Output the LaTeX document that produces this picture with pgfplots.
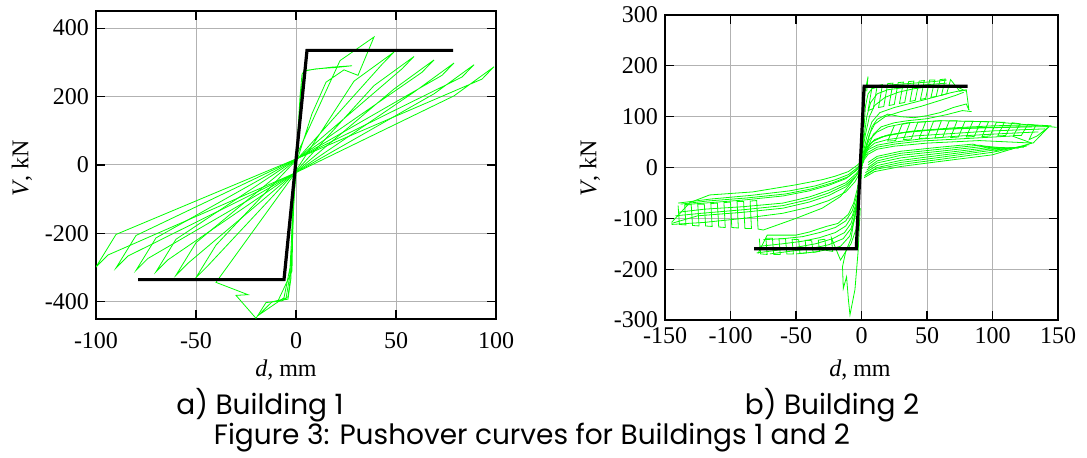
\documentclass[border=0pt]{standalone}
\usepackage{fontspec}
\setmainfont{Liberation Serif}
\newfontfamily\capfont{Poppins}
\usepackage{pgfplots}
\pgfplotsset{compat=1.18}

\definecolor{curve}{RGB}{0,255,0}

\pgfplotsset{
  pushover/.style={
    scale only axis, axis line style={line width=0.6pt},
    grid=major, grid style={gray!60, line width=0.5pt},
    tick style={black, line width=0.6pt},
    tick label style={font=\fontsize{12}{14}\selectfont},
    clip=true,
  },
  grn/.style={color=curve, line width=0.4pt, no markers},
  blk/.style={black, line width=1.6pt, no markers},
}

\begin{document}
\begin{tikzpicture}
\useasboundingbox (0,0) rectangle (543.5pt,-228.5pt);

% ---------------- Building 1 ----------------
\begin{axis}[pushover, at={(48pt,-5.5pt)}, anchor=north west,
  width=200pt, height=154pt,
  xmin=-100, xmax=100, ymin=-450, ymax=450,
  xtick={-100,-50,0,50,100}, xticklabels={-100,-50,0,50,100},
  ytick={-400,-200,0,200,400}, yticklabels={-400,-200,0,200,400},
  xticklabel style={yshift=-3pt}]
\addplot[grn] coordinates {(0,0)(1,100)(2,200)(3,265)(4,274)(10,281)(20,285)(28,290)(18,286)(4,276)(2,180)(0.5,20)
  (-1,-100)(-2,-250)(-3,-340)(-4,-385)(-7,-397)(-15,-402)(-20,-448)(-30,-381)(-24,-379)(-40,-343)(-1,-28)};
\addplot[grn] coordinates {(1,22)(8,150)(15,242)(24,278)(31,262)(39,374)(22,305)(0,25)};
\addplot[grn] coordinates {(-1,-30)(-2,-180)(-3,-320)(-5,-390)(-12,-400)(-19,-440)(-6,-388)(-3,-300)(-1,-80)(0,-20)};
\addplot[grn] coordinates {(-1,-40)(-2,-200)(-2.5,-330)(-4,-392)(-9,-397)(-2,-310)(-1.5,-150)(0,10)};
\addplot[grn] coordinates {(-1,-25)(29,245)(49,330)(43,294)(1,20)(-40,-234)(-50,-329)(-44,-294)(-1,-25)};
\addplot[grn] coordinates {(-1,-25)(39,232)(59,317)(53,281)(1,20)(-50,-227)(-60,-322)(-54,-287)(-1,-25)};
\addplot[grn] coordinates {(-1,-25)(49,222)(69,307)(63,271)(1,20)(-60,-217)(-70,-312)(-64,-277)(-1,-25)};
\addplot[grn] coordinates {(-1,-25)(59,213)(79,298)(73,262)(1,20)(-70,-213)(-80,-308)(-74,-273)(-1,-25)};
\addplot[grn] coordinates {(-1,-25)(69,208)(89,293)(83,257)(1,20)(-80,-206)(-90,-301)(-84,-266)(-1,-25)};
\addplot[grn] coordinates {(-1,-25)(79,202)(99,287)(93,251)(1,20)(-90,-203)(-100,-298)(-94,-263)(-1,-25)};
\addplot[blk] coordinates {(-79,-335)(-6,-335)(5.5,335)(78.5,335)};
\end{axis}

% ---------------- Building 2 ----------------
\begin{axis}[pushover, at={(332.5pt,-7.5pt)}, anchor=north west,
  width=196.5pt, height=152.5pt,
  xmin=-150, xmax=150, ymin=-300, ymax=300,
  xtick={-150,-100,-50,0,50,100,150}, xticklabels={-150,-100,-50,0,50,100,150},
  ytick={-300,-200,-100,0,100,200,300}, yticklabels={-300,-200,-100,0,100,200,300}]
% upper right group
\addplot[grn] coordinates {(-3,-40)(-1,0)(1,40)(2,80)(3,120)(5,145)(8,155)(15,160)(25,163)(40,166)(55,169)(65,172)};
\addplot[grn] coordinates {(-2,-30)(0,15)(2,60)(4,100)(7,128)(12,145)(20,153)(35,158)(50,163)(65,166)};
\addplot[grn] coordinates {(-2,-25)(0,20)(3,65)(6,100)(10,122)(18,138)(28,148)(40,155)(55,160)(70,162)(80,150)};
\addplot[grn] coordinates {(-1,-15)(1,25)(4,60)(8,90)(14,108)(25,118)(40,128)(55,138)(68,147)(77,152)};
\addplot[grn] coordinates {(-1,-10)(2,30)(6,65)(10,85)(18,100)(30,110)(45,120)(60,132)(72,142)(78,148)};
\addplot[grn] coordinates {(0,0)(4,35)(9,65)(15,80)(25,88)(35,92)(50,96)(65,104)(77,112)(84,110)};
\addplot[grn] coordinates {(0,5)(4,45)(8,80)(12,95)(20,105)(30,100)(40,98)(50,102)(60,108)(70,118)(80,125)(82,113)};
\addplot[grn] coordinates {(8,158)(5,112)(9,116)(12,161)(16,163)(13,118)(17,120)(20,165)(24,166)(21,122)(25,124)(28,167)
  (32,168)(29,126)(33,128)(36,169)(40,170)(37,130)(41,132)(44,170)(48,171)(45,134)(49,136)(52,172)(56,172)(53,138)
  (57,140)(60,173)(64,174)(61,142)(65,145)(68,173)(75,150)(80,153)(82,113)};
\addplot[grn] coordinates {(2,140)(5,179)(4,150)};
% middle right group
\addplot[grn] coordinates {(-1,0)(2,30)(6,55)(12,70)(20,80)(35,88)(60,92)(100,90)(145,80)(149,79)};
\addplot[grn] coordinates {(0,5)(3,32)(8,50)(15,60)(30,68)(50,73)(80,78)(120,80)(143,80)};
\addplot[grn] coordinates {(0,18)(4,40)(10,55)(20,64)(40,72)(70,78)(100,82)(130,84)(145,82)};
\addplot[grn] coordinates {(0,12)(3,38)(9,52)(18,62)(35,70)(60,75)(95,78)(130,80)};
\addplot[grn] coordinates {(0,10)(4,35)(10,48)(20,55)(40,62)(70,67)(100,72)(140,76)};
\addplot[grn] coordinates {(0,15)(5,35)(12,44)(25,50)(45,56)(75,62)(110,67)(135,70)};
\addplot[grn] coordinates {(0,12)(5,30)(12,40)(25,46)(45,52)(80,57)(115,62)(130,48)};
\addplot[grn] coordinates {(0,8)(5,26)(12,36)(25,42)(50,48)(90,53)(131,48)};
\addplot[grn] coordinates {(25,82)(20,52)(26,53)(31,85)(37,88)(32,55)(38,56)(43,89)(49,90)(44,57)(50,58)(55,91)
  (61,92)(56,58)(62,59)(67,92)(73,92)(68,59)(74,60)(79,91)(85,91)(80,60)(86,61)(91,90)(97,90)(92,61)(98,62)(103,89)
  (109,89)(104,62)(110,63)(115,88)(121,86)(116,63)(122,63)(127,85)(133,83)(128,55)(134,62)(143,80)(131,48)};
% lower right group
\addplot[grn] coordinates {(2,-20)(10,-8)(30,2)(60,12)(100,25)(130,48)};
\addplot[grn] coordinates {(2,-17)(10,-4)(30,6)(60,16)(100,30)(128,45)};
\addplot[grn] coordinates {(3,-14)(12,0)(30,10)(60,20)(100,34)(126,42)};
\addplot[grn] coordinates {(3,-10)(12,4)(30,14)(60,24)(100,37)(124,40)};
\addplot[grn] coordinates {(4,-5)(12,9)(30,19)(60,28)(100,40)(120,38)};
\addplot[grn] coordinates {(5,0)(12,13)(30,24)(60,32)(95,42)(115,36)};
\addplot[grn] coordinates {(5,5)(12,18)(30,28)(60,36)(90,44)(110,34)};
\addplot[grn] coordinates {(5,10)(12,22)(30,32)(60,40)(85,46)(105,32)};
% upper left group
\addplot[grn] coordinates {(2,20)(-3,5)(-10,-8)(-20,-17)(-30,-24)(-50,-34)(-83,-48)(-116,-54)(-131,-69)(-145,-108)};
\addplot[grn] coordinates {(2,15)(-3,0)(-10,-14)(-20,-24)(-35,-36)(-55,-46)(-85,-55)(-115,-62)(-140,-70)};
\addplot[grn] coordinates {(2,12)(-3,-3)(-10,-18)(-22,-30)(-38,-42)(-58,-52)(-88,-60)(-118,-66)(-138,-72)};
\addplot[grn] coordinates {(1,10)(-4,-6)(-12,-22)(-25,-35)(-40,-46)(-60,-56)(-90,-64)(-120,-70)(-135,-73)};
\addplot[grn] coordinates {(1,5)(-4,-12)(-12,-30)(-25,-45)(-40,-58)(-60,-70)(-90,-77)(-120,-82)(-140,-88)};
\addplot[grn] coordinates {(1,0)(-4,-16)(-12,-34)(-25,-50)(-40,-63)(-60,-75)(-90,-83)(-122,-90)(-142,-95)};
\addplot[grn] coordinates {(0,0)(-5,-20)(-12,-38)(-25,-55)(-40,-68)(-60,-80)(-90,-88)(-125,-95)(-145,-110)};
\addplot[grn] coordinates {(0,-5)(-5,-28)(-12,-48)(-25,-65)(-40,-78)(-60,-90)(-90,-100)(-120,-108)(-145,-112)};
\addplot[grn] coordinates {(-140,-75)(-139,-112)(-134,-113)(-135,-74)(-130,-73)(-129,-114)(-124,-115)(-125,-72)
  (-120,-72)(-119,-115)(-114,-116)(-115,-71)(-110,-70)(-109,-117)(-104,-118)(-105,-69)(-100,-68)(-99,-118)
  (-94,-119)(-95,-67)(-90,-67)(-89,-120)(-84,-120)(-85,-66)(-80,-65)(-79,-121)(-75,-123)(-50,-100)(-30,-80)(-16,-57)(-5,-20)};
% lower left group
\addplot[grn] coordinates {(0,-5)(-3,-40)(-6,-70)(-10,-92)(-18,-110)(-27,-116)(-40,-127)(-50,-133)(-72,-133)(-79,-169)};
\addplot[grn] coordinates {(0,-10)(-3,-50)(-7,-85)(-12,-105)(-20,-118)(-32,-128)(-45,-136)(-60,-140)(-75,-142)};
\addplot[grn] coordinates {(0,-15)(-3,-60)(-7,-95)(-12,-115)(-20,-128)(-32,-138)(-45,-145)(-60,-150)(-78,-155)};
\addplot[grn] coordinates {(-1,-20)(-4,-75)(-8,-110)(-13,-128)(-22,-140)(-35,-150)(-50,-157)(-65,-163)(-80,-168)};
\addplot[grn] coordinates {(-1,-25)(-4,-85)(-8,-120)(-14,-140)(-25,-152)(-40,-160)(-55,-165)(-70,-170)};
\addplot[grn] coordinates {(-2,-30)(-5,-100)(-9,-135)(-16,-155)(-27,-162)(-35,-166)(-50,-170)};
\addplot[grn] coordinates {(-78,-140)(-77,-170)(-72,-171)(-73,-139)(-68,-139)(-67,-171)(-62,-171)(-63,-140)
  (-58,-140)(-57,-170)(-52,-170)(-53,-141)(-48,-142)(-47,-169)(-42,-168)(-43,-143)(-38,-144)(-37,-167)
  (-32,-165)(-33,-143)(-28,-141)(-27,-163)(-22,-165)(-23,-138)(-18,-170)(-16,-182)(-12,-165)(-8,-150)(-4,-120)};
\addplot[grn] coordinates {(-1,-80)(-2.5,-162)(-5,-240)(-8.8,-290)(-10,-260)(-11.4,-215)(-12.5,-225)(-13.9,-238)
  (-14.5,-195)(-12,-165)(-8,-140)(-3,-60)};
\addplot[blk] coordinates {(-82,-160)(-4,-160)(2,160)(81,160)};
\end{axis}

% ---------------- labels and captions ----------------
\node[rotate=90, font=\fontsize{12}{14}\selectfont] at (11pt,-84pt) {\textit{V}, kN};
\node[rotate=90, font=\fontsize{12}{14}\selectfont] at (295pt,-84pt) {\textit{V}, kN};
\node[font=\fontsize{12}{14}\selectfont] at (143pt,-185pt) {\textit{d}, mm};
\node[font=\fontsize{12}{14}\selectfont] at (430pt,-185pt) {\textit{d}, mm};
\node[font=\capfont\fontsize{14}{16}\selectfont] at (130pt,-202.5pt) {a) Building 1};
\node[font=\capfont\fontsize{14}{16}\selectfont] at (416pt,-202.5pt) {b) Building 2};
\node[font=\capfont\fontsize{14}{16}\selectfont] at (266pt,-219pt) {Figure 3: Pushover curves for Buildings 1 and 2};
\end{tikzpicture}
\end{document}
